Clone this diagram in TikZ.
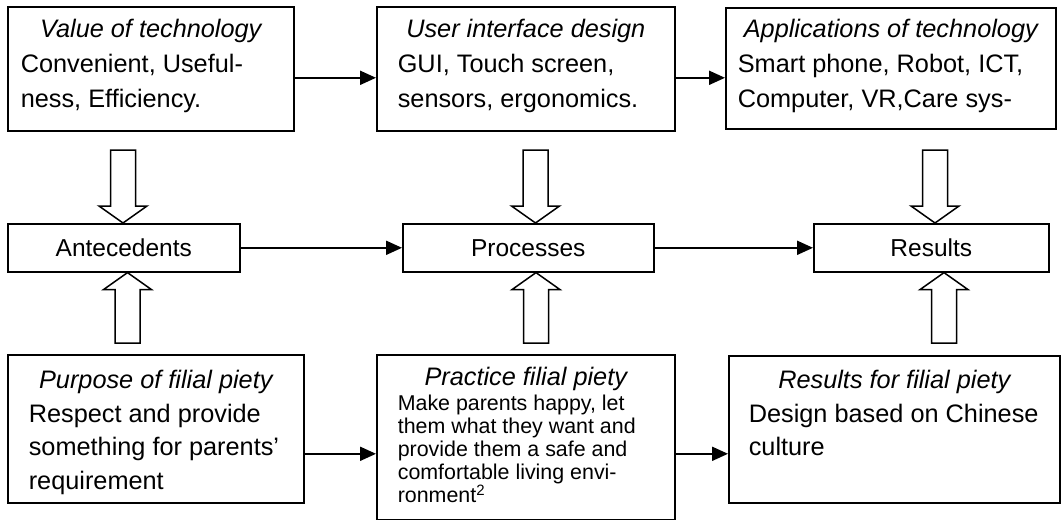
\documentclass[tikz,border=0pt]{standalone}
\usepackage{fontspec}
\setmainfont{Liberation Sans}
\usetikzlibrary{arrows.meta,calc}
\newcommand\ttl[2]{\makebox[#1][c]{\itshape #2}}
\newcommand\normspace{\spaceskip=0pt\xspaceskip=0pt\relax}
\newcommand\hollowarrow[2]{%
  \draw[hollow] let \p1=(#1), \p2=(#2), \p3=($(#2)!17pt!(#1)$) in
    (\x1-12.5pt,\y1) -- (\x1+12.5pt,\y1) -- (\x1+12.5pt,\y3) -- (\x1+24pt,\y3)
    -- (\x1,\y2) -- (\x1-24pt,\y3) -- (\x1-12.5pt,\y3) -- cycle;}
\tikzset{
  txtbox/.style={draw, line width=1.6pt, anchor=north west, inner ysep=0pt,
    align=flush left, font=\fontsize{25.3}{35}\selectfont\normspace},
  lowbox/.style={txtbox, font=\fontsize{25.3}{33.5}\selectfont\normspace},
  midbox/.style={draw, line width=1.6pt, anchor=north west, inner sep=0pt,
    minimum height=48pt, font=\fontsize{24.5}{29}\selectfont},
  conn/.style={line width=2pt, -{Triangle[length=16pt,width=14pt]}},
  hollow/.style={line width=1.5pt, line join=miter},
}
\begin{document}
\begin{tikzpicture}[x=1pt,y=-1pt]
\useasboundingbox (0,0) rectangle (1064,519);
% top row
\node[txtbox, inner xsep=13pt, text width=260pt, text height=31pt, text depth=93pt] (b1) at (7,6)
  {\normspace\ttl{260pt}{Value of technology}\\Convenient, Useful-\\ness, Efficiency.\par};
\node[txtbox, inner xsep=21pt, text width=256pt, text height=31pt, text depth=93pt] (b2) at (376,6)
  {\normspace\ttl{256pt}{User interface design}\\GUI, Touch screen,\\sensors, ergonomics.\par};
\node[txtbox, inner xsep=12pt, text width=306pt, text height=30pt, text depth=91pt] (b3) at (725,7)
  {\normspace\ttl{306pt}{Applications of technology}\\Smart phone, Robot, ICT,\\Computer, VR,Care sys-\par};
% middle row
\node[midbox, minimum width=232pt] (ante) at (7,223) {Antecedents};
\node[midbox, minimum width=251pt] (proc) at (402,223) {Processes};
\node[midbox, minimum width=235pt] (res) at (813,223) {Results};
% bottom row
\node[lowbox, inner xsep=21pt, text width=254pt, text height=34pt, text depth=114pt] (b4) at (7,354)
  {\normspace\ttl{254pt}{Purpose of filial piety}\\Respect and provide\\something for parents’\\requirement\par};
\node[txtbox, inner xsep=21pt, text width=256pt, text height=31pt, text depth=134pt] (b5) at (376,354)
  {\normspace{\fontsize{25.3}{23}\selectfont\ttl{256pt}{Practice filial piety}}\\[2pt]
   \fontsize{21.4}{23}\selectfont\normspace Make parents happy, let\\them what they want and\\provide them a safe and\\comfortable living envi-\\ronment\smash{\raisebox{7.5pt}{\fontsize{15}{15}\selectfont 2}}\par};
\node[lowbox, inner xsep=20pt, text width=291pt, text height=33pt, text depth=114pt] (b6) at (728,355)
  {\normspace\ttl{291pt}{Results for filial piety}\\Design based on Chinese\\culture\par};
% connectors
\coordinate (r1) at ([yshift=-9pt]b1.east);
\draw[conn] (r1) -- (r1 -| b2.west);
\draw[conn] (b2.east |- r1) -- (r1 -| b3.west);
\draw[conn] (ante) -- (proc);
\draw[conn] (proc) -- (res);
\coordinate (r3) at ([yshift=-25pt]b4.east);
\draw[conn] (r3) -- (r3 -| b5.west);
\draw[conn] (b5.east |- r3) -- (r3 -| b6.west);
% hollow block arrows
\coordinate (d1) at (123,150);
\coordinate (d2) at (535.5,150);
\coordinate (d3) at (935,150);
\coordinate (u1) at (127.5,343);
\coordinate (u2) at (536,343);
\coordinate (u3) at (944,343);
\hollowarrow{d1}{ante.north -| d1}
\hollowarrow{d2}{proc.north -| d2}
\hollowarrow{d3}{res.north -| d3}
\hollowarrow{u1}{ante.south -| u1}
\hollowarrow{u2}{proc.south -| u2}
\hollowarrow{u3}{res.south -| u3}
\end{tikzpicture}
\end{document}
